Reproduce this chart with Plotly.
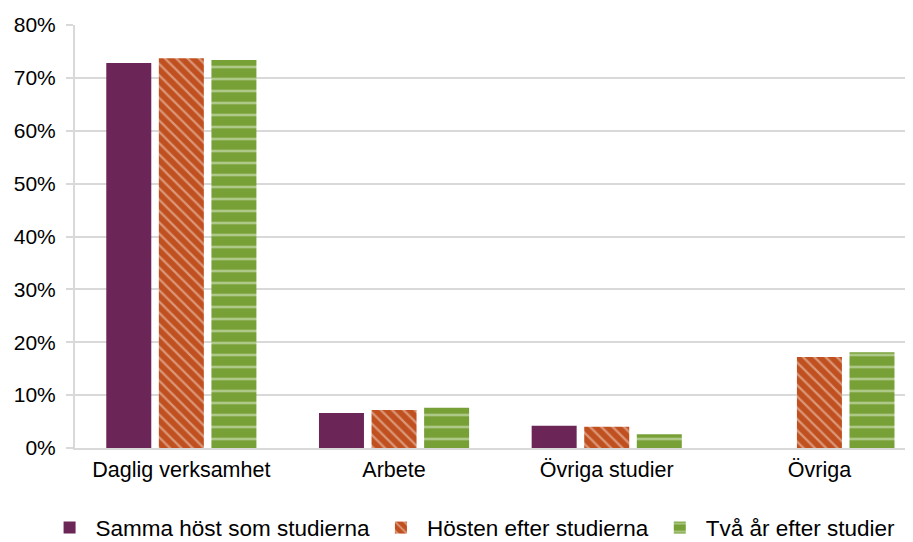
import plotly.graph_objects as go

categories = ["Daglig verksamhet", "Arbete", "Övriga studier", "Övriga"]
series_names = ["Samma höst som studierna", "Hösten efter studierna", "Två år efter studier"]
samma_host = [0.728, 0.066, 0.042, None]
hosten_efter = [0.737, 0.072, 0.040, 0.172]
tva_ar_efter = [0.734, 0.076, 0.026, 0.181]
tick_vals = [0, 0.1, 0.2, 0.3, 0.4, 0.5, 0.6, 0.7, 0.8]
tick_text = ["0%", "10%", "20%", "30%", "40%", "50%", "60%", "70%", "80%"]

fig = go.Figure()
fig.add_trace(go.Bar(name=series_names[0], x=categories, y=samma_host,
                     marker=dict(color="#6B2657", line=dict(width=0))))
fig.add_trace(go.Bar(name=series_names[1], x=categories, y=hosten_efter,
                     marker=dict(color="#C0501F", line=dict(width=0),
                                 pattern=dict(shape="\\", fgcolor="#F5DDD2", size=8, solidity=0.28))))
fig.add_trace(go.Bar(name=series_names[2], x=categories, y=tva_ar_efter,
                     marker=dict(color="#77A136", line=dict(width=0),
                                 pattern=dict(shape="-", fgcolor="#E6EFD8", size=12, solidity=0.22))))

fig.update_layout(
    width=905, height=534,
    margin=dict(l=67, r=0, t=17, b=94, autoexpand=False),
    paper_bgcolor="white", plot_bgcolor="white",
    font=dict(family="Liberation Sans, Arial, sans-serif", size=21, color="#000000"),
    barmode="group", bargap=0.2585, bargroupgap=0.144,
    showlegend=True,
    legend=dict(orientation="h", x=-0.0375, xanchor="left", y=-0.189, yanchor="middle",
                font=dict(size=22.5), traceorder="normal", itemwidth=42,
                bgcolor="rgba(0,0,0,0)"),
)
fig.update_xaxes(range=[-0.5, 3.44], showline=True, linecolor="#D9D9D9", linewidth=2,
                 ticks="", tickfont=dict(size=21.5), ticklabelstandoff=1)
fig.update_yaxes(range=[0, 0.8], tickvals=tick_vals, ticktext=tick_text,
                 showgrid=True, gridcolor="#D9D9D9", gridwidth=2,
                 showline=True, linecolor="#D9D9D9", linewidth=2,
                 ticks="outside", ticklen=7, tickcolor="#D9D9D9", tickwidth=2,
                 zeroline=False, tickfont=dict(size=21), ticklabelstandoff=6)

fig.write_html("out.html")
